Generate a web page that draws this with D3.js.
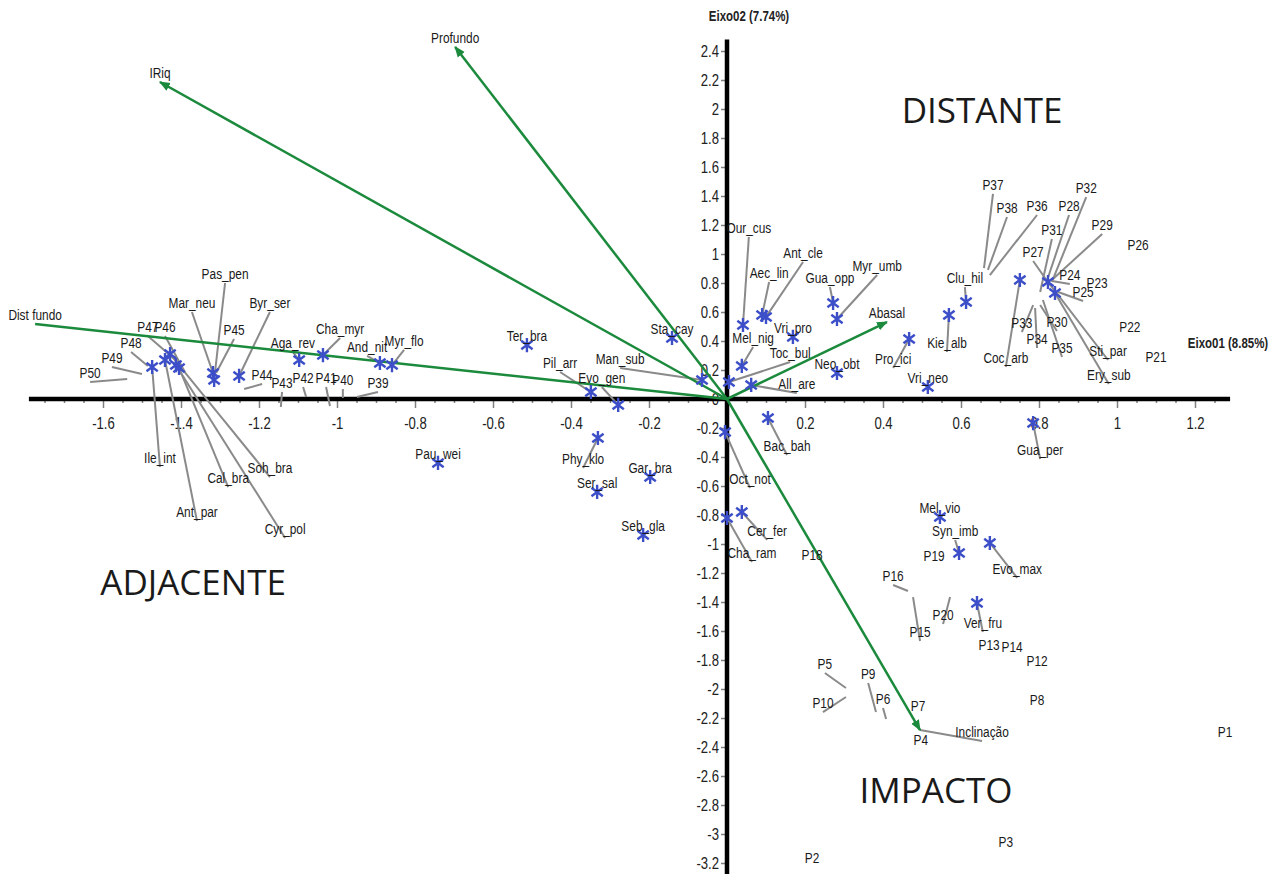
<!DOCTYPE html>
<html>
<head>
<meta charset="utf-8">
<script src="https://cdn.jsdelivr.net/npm/d3@7"></script>
<style>
  body { margin: 0; background: #fff; }
  svg { display: block; }
</style>
</head>
<body>
<svg id="chart" width="1285" height="874"></svg>
<script>
// environmental vectors
const envNames = ["Dist fundo", "IRiq", "Profundo", "Abasal", "Inclinação"];
const envX = [-1.774, -1.454, -0.697, 0.410, 0.495];
const envY = [0.517, 2.186, 2.428, 0.531, -2.283];
const envLabelX = [-1.774, -1.454, -0.697, 0.410, 0.654];
const envLabelY = [0.517, 2.186, 2.428, 0.531, -2.359];

// species scores (asterisks) and where their labels were moved to
const spNames = ["Ile_int","Ant_par","Cal_bra","Soh_bra","Cyr_pol","Mar_neu","Pas_pen","Byr_ser","Aga_rev","Cha_myr","And_nit","Myr_flo","Ter_bra","Pau_wei","Pil_arr","Evo_gen","Man_sub","Sta_cay","Phy_klo","Ser_sal","Gar_bra","Seb_gla","Our_cus","Aec_lin","Ant_cle","Gua_opp","Myr_umb","Vri_pro","Mel_nig","Toc_bul","All_are","Neo_obt","Pro_ici","Vri_neo","Kie_alb","Clu_hil","Coc_arb","Sti_par","Ery_sub","Gua_per","Bac_bah","Oct_not","Cer_fer","Cha_ram","Mel_vio","Syn_imb","Evo_max","Ver_fru"];
const spX = [-1.474,-1.441,-1.405,-1.428,-1.413,-1.318,-1.315,-1.251,-1.097,-1.036,-0.890,-0.859,-0.513,-0.741,-0.349,-0.279,-0.064,-0.141,-0.331,-0.333,-0.197,-0.215,0.041,0.090,0.100,0.272,0.282,0.169,0.038,0.005,0.062,0.282,0.467,0.515,0.569,0.613,0.751,0.823,0.841,0.785,0.105,-0.005,0.038,0.000,0.546,0.595,0.674,0.641];
const spY = [0.221,0.269,0.214,0.310,0.234,0.179,0.131,0.159,0.269,0.303,0.248,0.234,0.372,-0.441,0.048,-0.041,0.131,0.421,-0.269,-0.641,-0.538,-0.938,0.510,0.579,0.566,0.662,0.552,0.428,0.228,0.117,0.097,0.179,0.414,0.083,0.579,0.669,0.821,0.807,0.731,-0.166,-0.131,-0.228,-0.779,-0.821,-0.814,-1.062,-0.993,-1.407];
const spLabelX = [-1.454,-1.359,-1.279,-1.172,-1.133,-1.372,-1.287,-1.172,-1.113,-0.992,-0.923,-0.828,-0.513,-0.741,-0.428,-0.321,-0.274,-0.141,-0.369,-0.333,-0.197,-0.215,0.056,0.108,0.195,0.264,0.385,0.169,0.067,0.162,0.179,0.282,0.426,0.515,0.564,0.610,0.715,0.977,0.979,0.803,0.154,0.059,0.103,0.064,0.546,0.585,0.744,0.656];
const spLabelY = [-0.469,-0.841,-0.607,-0.538,-0.959,0.600,0.800,0.600,0.324,0.421,0.297,0.338,0.372,-0.441,0.186,0.083,0.214,0.421,-0.476,-0.641,-0.538,-0.938,1.117,0.807,0.945,0.772,0.855,0.428,0.359,0.255,0.041,0.179,0.214,0.083,0.324,0.772,0.221,0.269,0.103,-0.414,-0.386,-0.614,-0.972,-1.124,-0.814,-0.972,-1.234,-1.607];

// sample plots (label only) and label positions
const siteNames = ["P1","P2","P3","P4","P5","P6","P7","P8","P9","P10","P12","P13","P14","P15","P16","P18","P19","P20","P21","P22","P23","P24","P25","P26","P27","P28","P29","P30","P31","P32","P33","P34","P35","P36","P37","P38","P39","P40","P41","P42","P43","P44","P45","P46","P47","P48","P49","P50"];
const siteX = [1.277,0.218,0.715,0.497,0.305,0.408,0.490,0.795,0.382,0.305,0.795,0.672,0.731,0.477,0.464,0.218,0.531,0.572,1.100,1.033,0.949,0.833,0.849,1.054,0.828,0.821,0.833,0.803,0.803,0.833,0.785,0.790,0.810,0.674,0.659,0.669,-0.949,-0.985,-1.018,-1.079,-1.144,-1.238,-1.310,-1.390,-1.408,-1.485,-1.500,-1.538];
const siteY = [-2.359,-3.228,-3.117,-2.414,-1.993,-2.207,-2.179,-2.138,-2.159,-2.055,-1.869,-1.759,-1.772,-1.366,-1.324,-1.138,-1.145,-1.366,0.228,0.434,0.738,0.814,0.738,1.000,0.786,0.821,0.821,0.648,0.738,0.807,0.648,0.628,0.683,0.855,0.903,0.890,0.014,0.007,-0.048,0.014,-0.055,0.069,0.179,0.186,0.255,0.228,0.172,0.138];
const siteLabelX = [1.277,0.218,0.715,0.497,0.251,0.400,0.490,0.795,0.362,0.246,0.795,0.672,0.731,0.495,0.426,0.218,0.531,0.554,1.100,1.033,0.949,0.879,0.913,1.054,0.785,0.877,0.962,0.846,0.833,0.921,0.756,0.795,0.859,0.795,0.682,0.718,-0.895,-0.985,-1.028,-1.087,-1.141,-1.192,-1.264,-1.441,-1.485,-1.528,-1.577,-1.633];
const siteLabelY = [-2.359,-3.228,-3.117,-2.414,-1.890,-2.131,-2.179,-2.138,-1.959,-2.159,-1.869,-1.759,-1.772,-1.669,-1.283,-1.138,-1.145,-1.552,0.228,0.434,0.738,0.793,0.676,1.000,0.952,1.269,1.138,0.469,1.103,1.393,0.462,0.352,0.290,1.269,1.414,1.255,0.048,0.069,0.083,0.083,0.048,0.103,0.414,0.434,0.434,0.324,0.221,0.117];

// group names written on the plot
const groupNames = ["DISTANTE", "ADJACENTE", "IMPACTO"];
const groupX = [0.654, -1.369, 0.536];
const groupY = [1.903, -1.352, -2.786];

const xTickValues = [-1.6,-1.4,-1.2,-1,-0.8,-0.6,-0.4,-0.2,0.2,0.4,0.6,0.8,1,1.2];
const yTickValues = [2.4,2.2,2,1.8,1.6,1.4,1.2,1,0.8,0.6,0.4,0.2,0,-0.2,-0.4,-0.6,-0.8,-1,-1.2,-1.4,-1.6,-1.8,-2,-2.2,-2.4,-2.6,-2.8,-3,-3.2];
const xAxisExtent = [-1.79, 1.29];
const yAxisExtent = [-3.3, 2.48];

// labels in the original are a narrow face; squeeze a normal one
const labelFont = '"Liberation Sans", Arial, sans-serif';
const labelSize = 14.5;
const squeeze = 0.82;

const svg = d3.select('#chart');
const x = d3.scaleLinear().domain([-1.6, 1.2]).range([103, 1195]);
const y = d3.scaleLinear().domain([-3.2, 2.4]).range([863, 51]);
const fmt = d => String(+d.toFixed(1));

svg.append('rect').attr('width', 1285).attr('height', 874).attr('fill', '#fff');

svg.append('defs').append('marker')
  .attr('id', 'head')
  .attr('viewBox', '0 -5 10 10')
  .attr('refX', 9).attr('refY', 0)
  .attr('markerUnits', 'userSpaceOnUse')
  .attr('markerWidth', 11).attr('markerHeight', 11)
  .attr('orient', 'auto')
  .append('path')
  .attr('d', 'M0,-4L10,0L0,4Z')
  .attr('fill', '#1b8a3c');

// axes
const minorX = d3.range(-35, 26).map(i => i * 0.05).filter(v => Math.abs(v * 5 - Math.round(v * 5)) > 1e-6);

const gxMinor = svg.append('g')
  .attr('transform', `translate(0,${y(0)})`)
  .call(d3.axisBottom(x).tickValues(minorX).tickSize(4).tickFormat(''));
gxMinor.select('.domain').remove();

const gx = svg.append('g')
  .attr('transform', `translate(0,${y(0)})`)
  .call(d3.axisBottom(x).tickValues(xTickValues).tickSize(9).tickPadding(10).tickFormat(fmt));
gx.select('.domain').remove();

const gy = svg.append('g')
  .attr('transform', `translate(${x(0)},0)`)
  .call(d3.axisLeft(y).tickValues(yTickValues).tickSize(6).tickPadding(2).tickFormat(fmt));
gy.select('.domain').remove();

svg.selectAll('.tick line').attr('stroke', '#808080').attr('stroke-width', 1.5);
svg.selectAll('.tick text')
  .attr('fill', '#222')
  .style('font-family', labelFont)
  .style('font-size', '16px');
gx.selectAll('.tick text').attr('transform', `scale(${squeeze},1)`);
gy.selectAll('.tick text')
  .attr('x', -8 / squeeze)
  .attr('transform', `scale(${squeeze},1)`);

svg.append('line')
  .attr('x1', x(xAxisExtent[0])).attr('x2', x(xAxisExtent[1]))
  .attr('y1', y(0)).attr('y2', y(0))
  .attr('stroke', '#000').attr('stroke-width', 4.5);
svg.append('line')
  .attr('x1', x(0)).attr('x2', x(0))
  .attr('y1', y(yAxisExtent[1])).attr('y2', y(yAxisExtent[0]))
  .attr('stroke', '#000').attr('stroke-width', 4.5);

function axisTitle(tx, ty, label) {
  svg.append('text')
    .attr('transform', `translate(${tx},${ty}) scale(${squeeze},1)`)
    .attr('text-anchor', 'middle')
    .style('font-family', labelFont).style('font-size', '14px').style('font-weight', 'bold')
    .attr('fill', '#222')
    .text(label);
}
axisTitle(x(0) + 22, 21, 'Eixo02  (7.74%)');
axisTitle(1228, 348, 'Eixo01  (8.85%)');

// leader lines for displaced labels
const leaders = [];
spNames.forEach((n, i) => leaders.push([spX[i], spY[i], spLabelX[i], spLabelY[i]]));
siteNames.forEach((n, i) => leaders.push([siteX[i], siteY[i], siteLabelX[i], siteLabelY[i]]));
envNames.forEach((n, i) => leaders.push([envX[i], envY[i], envLabelX[i], envLabelY[i]]));

svg.append('g')
  .selectAll('line')
  .data(leaders.filter(d => Math.hypot(x(d[0]) - x(d[2]), y(d[1]) - y(d[3])) > 2))
  .enter()
  .append('line')
  .attr('x1', d => x(d[0])).attr('y1', d => y(d[1]))
  .attr('x2', d => x(d[2])).attr('y2', d => y(d[3]))
  .attr('stroke', '#8a8a8a')
  .attr('stroke-width', 2);

// environmental arrows
svg.append('g')
  .selectAll('line')
  .data(envNames)
  .enter()
  .append('line')
  .attr('x1', x(0)).attr('y1', y(0))
  .attr('x2', (d, i) => x(envX[i])).attr('y2', (d, i) => y(envY[i]))
  .attr('stroke', '#1b8a3c')
  .attr('stroke-width', 2.5)
  .attr('marker-end', (d, i) => i === 0 ? null : 'url(#head)');

// species asterisks
const asterisk = {
  draw(ctx, size) {
    const r = Math.sqrt(size) / 2;
    ctx.moveTo(0, -r); ctx.lineTo(0, r);
    ctx.moveTo(-r * 0.8, -r * 0.6); ctx.lineTo(r * 0.8, r * 0.6);
    ctx.moveTo(-r * 0.8, r * 0.6); ctx.lineTo(r * 0.8, -r * 0.6);
  }
};
svg.append('g')
  .selectAll('path')
  .data(spNames)
  .enter()
  .append('path')
  .attr('transform', (d, i) => `translate(${x(spX[i])},${y(spY[i])})`)
  .attr('d', d3.symbol().type(asterisk).size(200))
  .attr('fill', 'none')
  .attr('stroke', '#3d4fc8')
  .attr('stroke-width', 2.4);

// labels
function addLabels(names, lx, ly) {
  svg.append('g')
    .selectAll('text')
    .data(names)
    .enter()
    .append('text')
    .attr('transform', (d, i) => `translate(${x(lx[i])},${y(ly[i]) - 4}) scale(${squeeze},1)`)
    .attr('text-anchor', 'middle')
    .style('font-family', labelFont)
    .style('font-size', labelSize + 'px')
    .attr('fill', '#1a1a1a')
    .text(d => d);
}
addLabels(spNames, spLabelX, spLabelY);
addLabels(siteNames, siteLabelX, siteLabelY);
addLabels(envNames, envLabelX, envLabelY);

svg.append('g')
  .selectAll('text')
  .data(groupNames)
  .enter()
  .append('text')
  .attr('x', (d, i) => x(groupX[i]))
  .attr('y', (d, i) => y(groupY[i]))
  .attr('text-anchor', 'middle')
  .style('font-family', '"Open Sans", sans-serif')
  .style('font-size', '35px')
  .attr('fill', '#1a1a1a')
  .text(d => d);
</script>
</body>
</html>
